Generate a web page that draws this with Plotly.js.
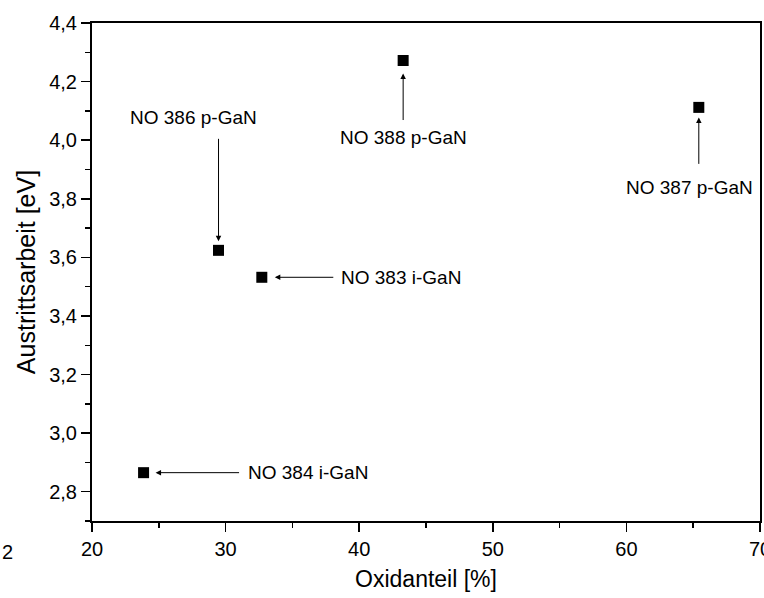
<!DOCTYPE html>
<html>
<head>
<meta charset="utf-8">
<script src="https://cdn.plot.ly/plotly-3.0.1.min.js"></script>
<style>
  html, body { margin: 0; padding: 0; background: #fff; }
  #chart { width: 764px; height: 598px; }
</style>
</head>
<body>
<div id="chart"></div>
<script>
// ---- data ----
const sampleLabels = ["NO 384 i-GaN", "NO 386 p-GaN", "NO 383 i-GaN", "NO 388 p-GaN", "NO 387 p-GaN"];
const oxidanteil   = [23.86, 29.47, 32.71, 43.29, 65.42];      // %
const austritt     = [2.865, 3.624, 3.532, 4.272, 4.112];      // eV
const xTickVals    = [20, 30, 40, 50, 60, 70];
const yTickVals    = [2.8, 3.0, 3.2, 3.4, 3.6, 3.8, 4.0, 4.2, 4.4];

// ---- annotation styling (pixel offsets of arrow tails / labels) ----
// [arrow ax, arrow ay, standoff, label dx, label dy]
const annStyle = [
  [ 97,    0, 12, 164,    0],
  [  0, -113,  9, -25, -133],
  [ 73,    0, 13, 139,    0],
  [  0,   61, 13,   0,   77],
  [  0,   58, 10,  -9,   80]
];

const FONT = "Liberation Sans, Arial, sans-serif";

const trace = {
  x: oxidanteil,
  y: austritt,
  mode: "markers",
  type: "scatter",
  marker: { symbol: "square", size: 11, color: "#000000" },
  hoverinfo: "skip",
  showlegend: false
};

const annotations = [];
sampleLabels.forEach((lab, i) => {
  const s = annStyle[i];
  annotations.push({
    x: oxidanteil[i], y: austritt[i], xref: "x", yref: "y",
    text: "", showarrow: true,
    ax: s[0], ay: s[1], axref: "pixel", ayref: "pixel",
    arrowhead: 2, arrowsize: 1.1, arrowwidth: 1, arrowcolor: "#000",
    standoff: s[2]
  });
  annotations.push({
    x: oxidanteil[i], y: austritt[i], xref: "x", yref: "y",
    text: lab, showarrow: false,
    xshift: s[3], yshift: -s[4],
    xanchor: "center", yanchor: "middle",
    font: { family: FONT, size: 19, color: "#000" }
  });
});

// stray "2" fragment at lower left
annotations.push({
  xref: "paper", yref: "paper",
  x: (0 - 92) / 668, y: -(552 - 521) / 498,
  xanchor: "left", yanchor: "middle",
  text: "2", showarrow: false,
  font: { family: FONT, size: 20, color: "#000" }
});

const layout = {
  width: 764, height: 598,
  margin: { l: 92, r: 4, t: 23, b: 77, pad: 0 },
  paper_bgcolor: "#ffffff",
  plot_bgcolor: "#ffffff",
  separators: ",.",
  font: { family: FONT, color: "#000", size: 20 },
  showlegend: false,
  xaxis: {
    range: [20, 70],
    tickmode: "array", tickvals: xTickVals,
    ticks: "outside", ticklen: 9, tickwidth: 1.5, tickcolor: "#000",
    minor: { ticks: "outside", ticklen: 5, tickwidth: 1.5, tickcolor: "#000", dtick: 5, tick0: 20, showgrid: false },
    showline: true, linewidth: 2, linecolor: "#000", mirror: true,
    showgrid: false, zeroline: false,
    ticklabeloverflow: "allow",
    tickfont: { family: FONT, size: 20, color: "#000" },
    title: { text: "Oxidanteil [%]", font: { family: FONT, size: 23, color: "#000" }, standoff: 12 },
    automargin: false
  },
  yaxis: {
    range: [2.7, 4.4001],
    tickmode: "array", tickvals: yTickVals, tickformat: ".1f",
    ticks: "outside", ticklen: 9, tickwidth: 1.5, tickcolor: "#000",
    minor: { ticks: "outside", ticklen: 5, tickwidth: 1.5, tickcolor: "#000", dtick: 0.1, tick0: 2.7, showgrid: false },
    showline: true, linewidth: 2, linecolor: "#000", mirror: true,
    showgrid: false, zeroline: false,
    ticklabeloverflow: "allow",
    tickfont: { family: FONT, size: 20, color: "#000" },
    title: { text: "Austrittsarbeit [eV]", font: { family: FONT, size: 25, color: "#000" }, standoff: 6 },
    automargin: false
  },
  annotations: annotations
};

Plotly.newPlot("chart", [trace], layout, { displayModeBar: false, staticPlot: true });
</script>
</body>
</html>
